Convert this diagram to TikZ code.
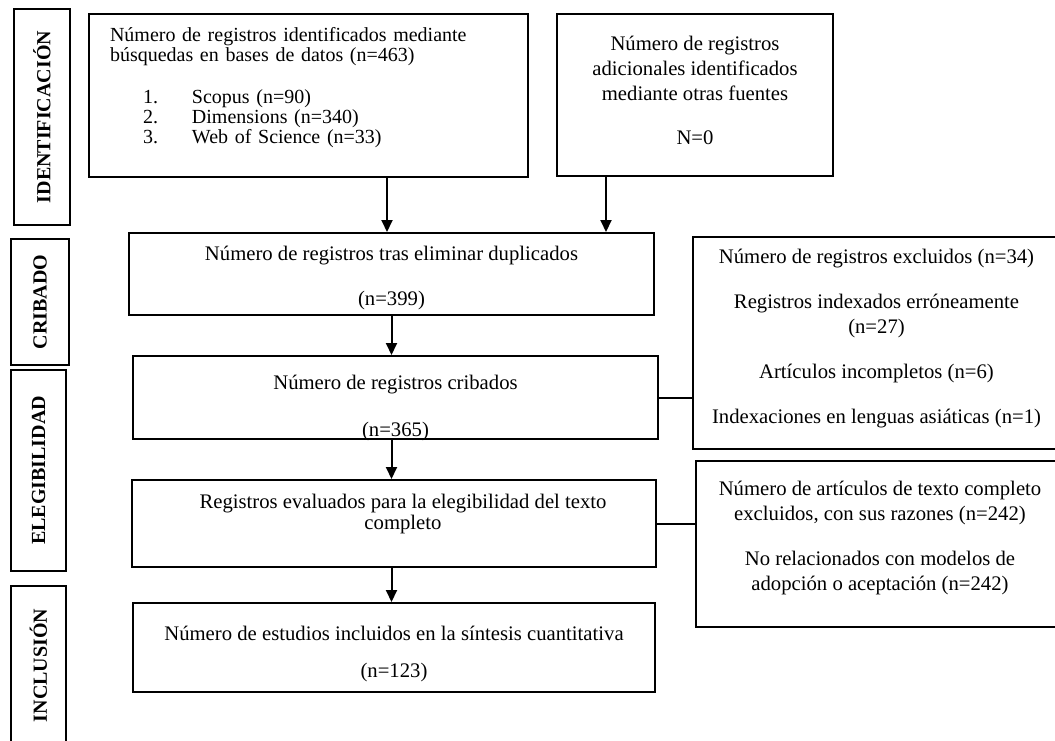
\documentclass[tikz,border=0pt]{standalone}
\usepackage{fontspec}
\setmainfont{Liberation Serif}
\usetikzlibrary{arrows.meta}
\tikzset{>={Triangle[length=12pt,width=11pt]}}
\tikzset{stage/.style = {draw,line width=2pt,rotate=90,inner sep=0pt,font=\fontsize{20}{24}\selectfont\bfseries}}
\tikzset{box/.style = {draw,line width=2pt,inner sep=0pt}}
\tikzset{boxtext/.style = {align=center,inner sep=0pt,font=\fontsize{20.7}{25}\selectfont}}

\begin{document}
\begin{tikzpicture}[x=1pt,y=-1pt,line width=2pt]
                    \useasboundingbox (0,0) rectangle (1055,741);

                    \node[stage,minimum width=216,minimum height=56] (IdenLab) at (42,117) {IDENTIFICACIÓN};
                    \node[stage,minimum width=126,minimum height=58] (CribLab) at (40,302) {CRIBADO};
                    \node[stage,minimum width=201,minimum height=55] (ElegLab) at (38.5,470.5) {ELEGIBILIDAD};
                    \node[stage,minimum width=159,minimum height=55] (InclLab) at (38.5,665.5) {INCLUSIÓN};

                    \node[box,minimum width=439,minimum height=163] (Bases) at (308.5,95.5) {};
                    \node[boxtext,align=left,text width=397pt,font=\fontsize{20}{20}\selectfont] (BasesT) at (308.5,87.5)
                        {Número de registros identificados mediante\\ búsquedas en bases de datos (n=463)\\[22pt]
                         \hspace*{33pt}\makebox[49pt][l]{1.}Scopus (n=90)\\
                         \hspace*{33pt}\makebox[49pt][l]{2.}Dimensions (n=340)\\
                         \hspace*{33pt}\makebox[49pt][l]{3.}Web of Science (n=33)};
                    \node[box,minimum width=276,minimum height=162] (Otras) at (695,95) {};
                    \node[boxtext] (OtrasT) at (695,90.5)
                        {Número de registros\\ adicionales identificados\\ mediante otras fuentes\\[19pt] N=0};

                    \node[box,minimum width=525,minimum height=82] (Dupl) at (391.5,274) {};
                    \node[boxtext] (DuplT) at (391.5,278.5) {Número de registros tras eliminar duplicados\\[20pt] (n=399)};
                    \node[box,minimum width=525,minimum height=83] (Crib) at (395.5,397.5) {};
                    \node[boxtext] (CribT) at (395.5,408) {Número de registros cribados\\[22pt] (n=365)};
                    \node[box,minimum width=524,minimum height=87] (Eval) at (394,523.5) {};
                    \node[boxtext,font=\fontsize{20.7}{21}\selectfont] (EvalT) at (403,514)
                        {Registros evaluados para la elegibilidad del texto\\ completo};
                    \node[box,minimum width=522,minimum height=89] (Estu) at (394,647.5) {};
                    \node[boxtext] (EstuT) at (394,654.5) {Número de estudios incluidos en la síntesis cuantitativa\\[12pt] (n=123)};

                    \node[box,minimum width=367,minimum height=212] (Excl) at (876.5,343) {};
                    \node[boxtext] (ExclT) at (876.5,338.5)
                        {Número de registros excluidos (n=34)\\[20pt] Registros indexados erróneamente\\ (n=27)\\[20pt]
                         Artículos incompletos (n=6)\\[20pt] Indexaciones en lenguas asiáticas (n=1)};
                    \node[box,minimum width=368,minimum height=166] (Text) at (880,544) {};
                    \node[boxtext] (TextT) at (880,538.5)
                        {Número de artículos de texto completo\\ excluidos, con sus razones (n=242)\\[20pt]
                         No relacionados con modelos de\\ adopción o aceptación (n=242)};

                    \draw[->] ([xshift=78.5pt]Bases.south) -- ([xshift=78.5pt]Bases.south |- Dupl.north);
                    \draw[->] ([xshift=-89pt]Otras.south) -- ([xshift=-89pt]Otras.south |- Dupl.north);
                    \draw[->] (Dupl.south) -- (Dupl.south |- Crib.north);
                    \draw[->] (Dupl.south |- Crib.south) -- (Dupl.south |- Eval.north);
                    \draw[->] (Dupl.south |- Eval.south) -- (Dupl.south |- Estu.north);

                    \draw (Crib.east) -- (Crib.east -| Excl.west);
                    \draw (Eval.east) -- (Eval.east -| Text.west);
                \end{tikzpicture}
\end{document}
